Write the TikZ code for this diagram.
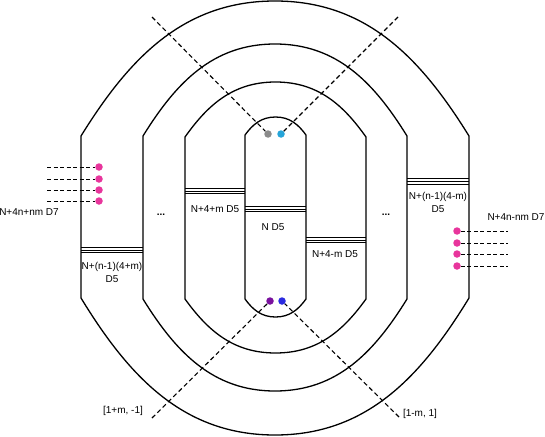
\documentclass[tikz,border=0pt]{standalone}
\usepackage{fontspec}
\setmainfont{Liberation Sans}
\definecolor{dotpink}{HTML}{E8359C}
\definecolor{dotgray}{HTML}{8C8C8C}
\definecolor{dotcyan}{HTML}{26A5D9}
\definecolor{dotpurple}{HTML}{7A119E}
\definecolor{dotblue}{HTML}{2B2BE0}
\newcommand\ringpath[7]{%
  \draw[ring] (#1,#3) -- (#1,#4)
   .. controls ({#1+0.25*(#7-#1)},{#4+0.58*(#6-#4)}) and ({#7-0.47*(#7-#1)},#6) .. (#7,#6)
   .. controls ({#7+0.47*(#2-#7)},#6) and ({#2-0.25*(#2-#7)},{#4+0.58*(#6-#4)}) .. (#2,#4)
   -- (#2,#3)
   .. controls ({#2-0.25*(#2-#7)},{#3-0.58*(#3-#5)}) and ({#7+0.47*(#2-#7)},#5) .. (#7,#5)
   .. controls ({#7-0.47*(#7-#1)},#5) and ({#1+0.25*(#7-#1)},{#3-0.58*(#3-#5)}) .. cycle;}
\newcommand\triplebar[3]{%
  \foreach \dd in {-2.9,0,2.9} {\draw[bar] (#1,{#3+\dd}) -- (#2,{#3+\dd});}}
\begin{document}
\begin{tikzpicture}[x=1pt,y=-1pt,
  ring/.style={line width=1.3pt},
  bar/.style={line width=1pt},
  cut/.style={line width=1.1pt,dash pattern=on 4.5pt off 3pt},
  lead/.style={line width=0.9pt,dash pattern=on 4pt off 2.5pt},
  dot/.style={circle,inner sep=0pt,minimum size=7.5pt,draw=none},
  lbl/.style={inner sep=0pt,font=\fontsize{10}{13}\selectfont,align=center}]
\useasboundingbox (0,0) rectangle (545,436);
% rings
\ringpath{81}{469}{136}{298}{1}{435}{275}
\ringpath{143}{407}{136}{299}{44}{391}{275}
\ringpath{185}{366}{137}{299}{82}{353}{275.5}
\ringpath{245}{306}{135}{299}{117}{317}{275.5}
% bars
\triplebar{81}{143}{250}
\triplebar{185}{245}{191}
\triplebar{245}{306}{209}
\triplebar{306}{366}{240}
\triplebar{407}{469}{181.5}
% labels
\node[lbl] (l1) at (112,272.5) {N+(n-1)(4+m)\\D5};
\node[lbl] (l2) at (215,209) {N+4+m D5};
\node[lbl] (l3) at (273,227) {N D5};
\node[lbl] (l4) at (335,254) {N+4-m D5};
\node[lbl] (l5) at (438,202.5) {N+(n-1)(4-m)\\D5};
\node[lbl,font=\fontsize{10}{13}\selectfont\bfseries] (e1) at (161,215) {...};
\node[lbl,font=\fontsize{10}{13}\selectfont\bfseries] (e2) at (386,215) {...};
\node[lbl] (d7l) at (29,212) {N+4n+nm D7};
\node[lbl] (d7r) at (516,217) {N+4n-nm D7};
\node[lbl] (cl) at (123,411) {[1+m, -1]};
\node[lbl] (cr) at (420,414) {[1-m, 1]};
% center dots
\node[dot,fill=dotgray] (g) at (268,134) {};
\node[dot,fill=dotcyan] (c) at (281,134) {};
\node[dot,fill=dotpurple] (p) at (270,301) {};
\node[dot,fill=dotblue] (b) at (282,301) {};
\coordinate (ul) at (152,17);
\coordinate (ur) at (398,17);
\coordinate (ll) at (152,418);
\coordinate (lr) at (399,417);
\draw[cut] (ul) -- (g);
\draw[cut] (ur) -- (c);
\draw[cut] (ll) -- (p);
\draw[cut] (lr) -- (b);
% pink leads
\foreach \i/\y in {1/167,2/179,3/190,4/201} {
  \node[dot,fill=dotpink] (pl\i) at (99,\y) {};
  \coordinate (al\i) at (47,\y);
  \draw[lead] (al\i) -- (pl\i);
}
\foreach \i/\y in {1/231,2/243,3/254,4/266} {
  \node[dot,fill=dotpink] (pr\i) at (457,\y) {};
  \coordinate (ar\i) at (508,\y);
  \draw[lead] (pr\i) -- (ar\i);
}
\end{tikzpicture}
\end{document}
